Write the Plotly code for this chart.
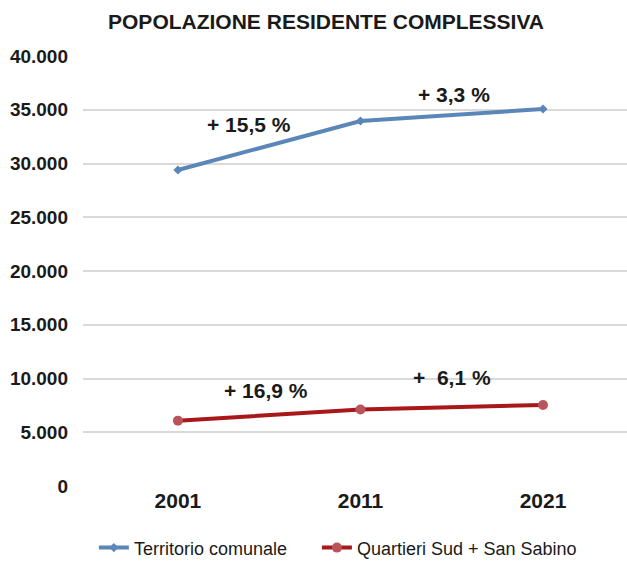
import plotly.graph_objects as go

# Census years and resident population
years = ["2001", "2011", "2021"]
territorio = [29400, 33950, 35070]
quartieri = [6080, 7110, 7540]

# Percentage change between consecutive censuses
var_territorio = ["+ 15,5 %", "+ 3,3 %"]
var_quartieri = ["+ 16,9 %", "+  6,1 %"]

y_ticks = [0, 5000, 10000, 15000, 20000, 25000, 30000, 35000, 40000]
y_tick_text = ["0", "5.000", "10.000", "15.000", "20.000", "25.000", "30.000", "35.000", "40.000"]

FONT = "Liberation Sans, Arial, sans-serif"
INK = "#1a1a1a"
BLUE = "#5b87b8"
RED = "#a81818"

fig = go.Figure()
fig.add_trace(go.Scatter(
    x=years, y=territorio, name="Territorio comunale", mode="lines+markers",
    line=dict(color=BLUE, width=4),
    marker=dict(color=BLUE, size=7, symbol="diamond"),
    legend="legend",
))
fig.add_trace(go.Scatter(
    x=years, y=quartieri, name="Quartieri Sud + San Sabino", mode="lines+markers",
    line=dict(color=RED, width=4),
    marker=dict(color="#b9555a", size=10, symbol="circle"),
    legend="legend2",
))

# Growth labels placed between the census points
label_pos_t = [(0.39, 33600), (1.51, 36400)]
label_pos_q = [(0.48, 8850), (1.50, 10050)]
for (x, y), txt in zip(label_pos_t + label_pos_q, var_territorio + var_quartieri):
    fig.add_annotation(x=x, y=y, xref="x", yref="y", text=f"<b>{txt}</b>",
                       showarrow=False, font=dict(family=FONT, size=21, color=INK))

legend_style = dict(orientation="h", xanchor="left", y=-0.144, yanchor="middle",
                    font=dict(family=FONT, size=18, color=INK), itemwidth=30,
                    bgcolor="rgba(0,0,0,0)")

fig.update_layout(
    width=627, height=567,
    margin=dict(l=83, r=0, t=56, b=81),
    paper_bgcolor="white", plot_bgcolor="white",
    font=dict(family=FONT, color=INK),
    title=dict(text="<b>POPOLAZIONE RESIDENTE COMPLESSIVA</b>",
               x=0.52, xanchor="center", y=1 - 22 / 567, yanchor="middle",
               font=dict(family=FONT, size=21, color=INK)),
    xaxis=dict(type="category", range=[-0.52, 2.46], showgrid=False, zeroline=False,
               showline=False, ticks="", tickfont=dict(family=FONT, size=21, color=INK),
               tickprefix="<b>", ticksuffix="</b>"),
    yaxis=dict(range=[0, 40000], tickvals=y_ticks, ticktext=[f"<b>{t}</b>" for t in y_tick_text],
               showgrid=True, gridcolor="#d9d9d9", gridwidth=1.5, zeroline=False,
               showline=False, ticks="", ticklabelstandoff=14,
               tickfont=dict(family=FONT, size=19, color=INK)),
    legend=dict(x=0.02, **legend_style),
    legend2=dict(x=0.43, **legend_style),
    showlegend=True,
)

fig.write_html("out.html")
